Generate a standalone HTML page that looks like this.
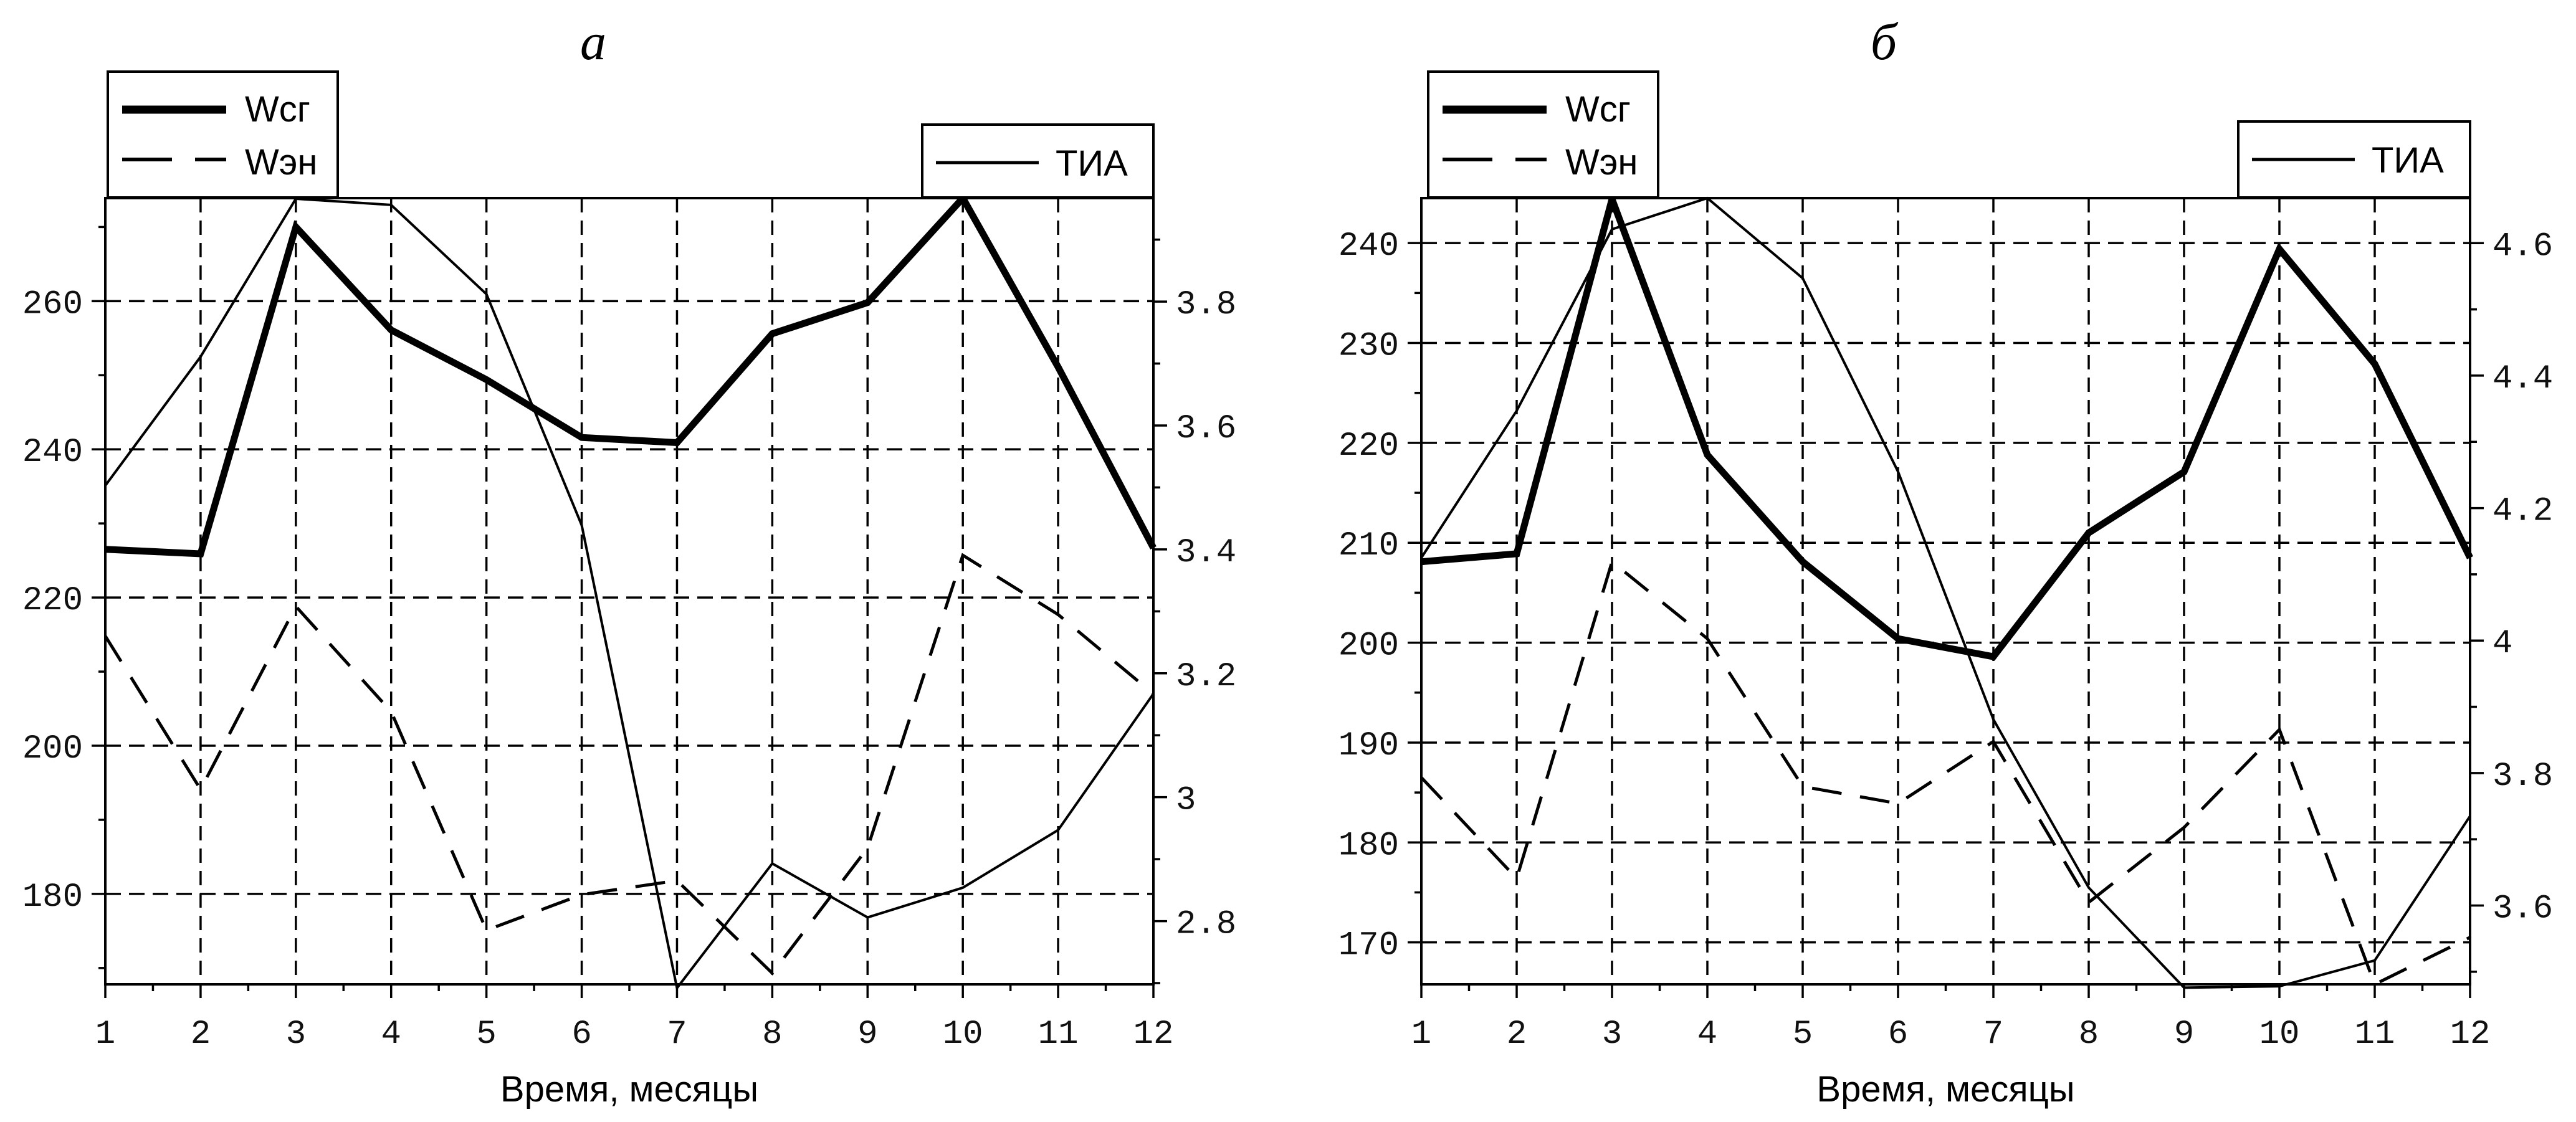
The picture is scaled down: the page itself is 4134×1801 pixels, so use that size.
<!DOCTYPE html>
<html><head><meta charset="utf-8"><style>
html,body{margin:0;padding:0;background:#fff;}
svg{display:block;}
.tk{font-family:"Liberation Mono",monospace;font-size:54px;fill:#111;}
.lg{font-family:"Liberation Sans",sans-serif;font-size:58px;fill:#000;}
.ttl{font-family:"Liberation Serif",serif;font-style:italic;font-size:84px;fill:#000;}
</style></head><body>
<svg id="chart" width="4134" height="1801" xmlns="http://www.w3.org/2000/svg"></svg>
<script>
const months = [1,2,3,4,5,6,7,8,9,10,11,12];
const aWsg = [226.5,225.9,270,256.1,249.4,241.6,240.9,255.6,259.8,273.9,251.1,226.7];
const aWen = [214.8,194.1,218.8,204.6,175.1,179.9,181.8,169.3,186.2,225.7,217.7,207.0];
const aTia = [3.503,3.711,3.966,3.956,3.812,3.439,2.692,2.893,2.806,2.854,2.947,3.167];
const bWsg = [208.1,208.9,244.4,218.8,208.1,200.4,198.6,211.0,217.1,239.4,227.9,208.5];
const bWen = [186.5,176.4,208.1,200.4,185.6,183.9,190.1,174.0,181.5,191.3,165.8,170.5];
const bTia = [4.125,4.347,4.621,4.668,4.547,4.255,3.881,3.627,3.476,3.478,3.517,3.735];
const aLeftTicks = [180,200,220,240,260];
const aLeftMinor = [170,190,210,230,250,270];
const aRightTicks = [2.8,3,3.2,3.4,3.6,3.8];
const aRightMinor = [2.7,2.9,3.1,3.3,3.5,3.7,3.9];
const bLeftTicks = [170,180,190,200,210,220,230,240];
const bLeftMinor = [165,175,185,195,205,215,225,235];
const bRightTicks = [3.6,3.8,4,4.2,4.4,4.6];
const bRightMinor = [3.5,3.7,3.9,4.1,4.3,4.5];

const NS="http://www.w3.org/2000/svg";
const svg=document.getElementById('chart');
function mk(tag,attrs,parent){const e=document.createElementNS(NS,tag);for(const k in attrs)e.setAttribute(k,attrs[k]);(parent||svg).appendChild(e);return e;}
function fmt(v){return (Math.round(v*10)/10).toString();}

function panel(cfg){
  const g=mk('g',{});
  
  
  const L=cfg.x0,R=cfg.x1,T=318,B=1580;
  const sx=m=>L+(m-1)/11*(R-L);
  const syL=v=>B-(v-cfg.lmin)/(cfg.lmax-cfg.lmin)*(B-T);
  const syR=v=>B-(v-cfg.rmin)/(cfg.rmax-cfg.rmin)*(B-T);
  // grid
  months.forEach(m=>{const l=mk('line',{x1:sx(m),x2:sx(m),y1:T,y2:B,stroke:'#000','stroke-width':3.5,'stroke-dasharray':'23 13'},g);
    });
  cfg.lt.forEach(v=>{const l=mk('line',{x1:L,x2:R,y1:syL(v),y2:syL(v),stroke:'#000','stroke-width':3.5,'stroke-dasharray':'25 13'},g);
    });
  // frame
  const f=mk('rect',{x:L,y:T,width:R-L,height:B-T,fill:'none',stroke:'#000','stroke-width':4},g);
  
  // x ticks
  months.forEach(m=>{mk('line',{x1:sx(m),x2:sx(m),y1:B,y2:B+22,stroke:'#000','stroke-width':3.5},g);
    if(m<12){const h=(sx(m)+sx(m+1))/2;mk('line',{x1:h,x2:h,y1:B,y2:B+11,stroke:'#000','stroke-width':3.5},g);}
    const t=mk('text',{x:sx(m),y:1674,'text-anchor':'middle',class:'tk'},g);t.textContent=m;
    });
  cfg.lt.forEach(v=>{mk('line',{x1:L-22,x2:L,y1:syL(v),y2:syL(v),stroke:'#000','stroke-width':3.5},g);
    const t=mk('text',{x:L-36,y:syL(v)+19,'text-anchor':'end',class:'tk'},g);t.textContent=v;
    });
  cfg.lm.forEach(v=>{if(syL(v)>T&&syL(v)<B)mk('line',{x1:L-11,x2:L,y1:syL(v),y2:syL(v),stroke:'#000','stroke-width':3.5},g);});
  cfg.rt.forEach(v=>{mk('line',{x1:R,x2:R+22,y1:syR(v),y2:syR(v),stroke:'#000','stroke-width':3.5},g);
    const t=mk('text',{x:R+36,y:syR(v)+19,'text-anchor':'start',class:'tk'},g);t.textContent=fmt(v);
    });
  cfg.rm.forEach(v=>{if(syR(v)>T&&syR(v)<B)mk('line',{x1:R,x2:R+11,y1:syR(v),y2:syR(v),stroke:'#000','stroke-width':3.5},g);});
  // series
  const line=(data,sy,w,dash,name)=>{const p=mk('polyline',{points:data.map((v,i)=>sx(months[i])+','+sy(v)).join(' '),fill:'none',stroke:'#000','stroke-width':w,'stroke-linejoin':'miter'},g);
    if(dash)p.setAttribute('stroke-dasharray',dash);
    };
  line(cfg.tia,syR,4,null,'tia-line');
  line(cfg.wen,syL,5,'48 30','wen-line');
  line(cfg.wsg,syL,11,null,'wsg-line');
  // x title
  const xt=mk('text',{x:(L+R)/2,y:1768,'text-anchor':'middle',class:'lg'},g);xt.textContent='Время, месяцы';
  
  const tt=mk('text',{x:cfg.tx,y:95,'text-anchor':'middle',class:'ttl'},g);tt.textContent=cfg.title;
  
  // legends
  const lg1=mk('g',{},g);
  const a=cfg.l1;
  mk('rect',{x:a,y:115,width:369,height:202,fill:'#fff',stroke:'#000','stroke-width':4},lg1);
  mk('line',{x1:a+23,x2:a+190,y1:176,y2:176,stroke:'#000','stroke-width':13},lg1);
  mk('line',{x1:a+23,x2:a+190,y1:256,y2:256,stroke:'#000','stroke-width':6,'stroke-dasharray':'80 37'},lg1);
  let t1=mk('text',{x:a+220,y:195,class:'lg'},lg1);t1.textContent='Wсг';
  
  let t2=mk('text',{x:a+220,y:280,class:'lg'},lg1);t2.textContent='Wэн';
  
  const lg2=mk('g',{},g);
  const b=cfg.l2;
  mk('rect',{x:b,y:cfg.l2y,width:R-b,height:317-cfg.l2y,fill:'#fff',stroke:'#000','stroke-width':4},lg2);
  mk('line',{x1:b+22,x2:b+187,y1:cfg.l2y+61,y2:cfg.l2y+61,stroke:'#000','stroke-width':5},lg2);
  let t3=mk('text',{x:b+214,y:cfg.l2y+82,class:'lg'},lg2);t3.textContent='ТИА';
  
}
panel({name:'panel-a',x0:169,x1:1851,lmin:167.8,lmax:273.9,rmin:2.698,rmax:3.967,lt:aLeftTicks,lm:aLeftMinor,rt:aRightTicks,rm:aRightMinor,wsg:aWsg,wen:aWen,tia:aTia,title:'а',tx:952,l1:173,l2:1480,l2y:200});
panel({name:'panel-b',x0:2281,x1:3964,lmin:165.8,lmax:244.5,rmin:3.481,rmax:4.668,lt:bLeftTicks,lm:bLeftMinor,rt:bRightTicks,rm:bRightMinor,wsg:bWsg,wen:bWen,tia:bTia,title:'б',tx:3023,l1:2292,l2:3592,l2y:195});
</script>
</body></html>
